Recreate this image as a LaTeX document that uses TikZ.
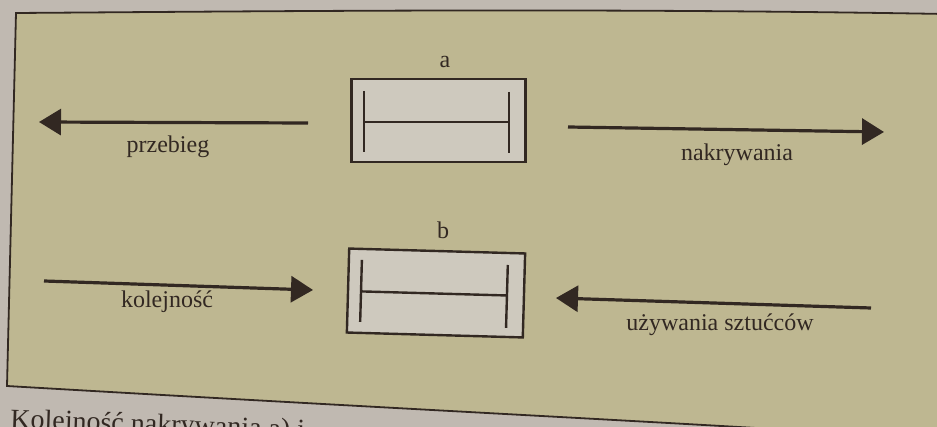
\documentclass[tikz,border=0pt]{standalone}
\usepackage{fontspec}
\setmainfont{Liberation Serif}
\usetikzlibrary{arrows.meta}
\definecolor{page}{RGB}{192,185,177}
\definecolor{panel}{RGB}{190,183,145}
\definecolor{boxfill}{RGB}{206,201,190}
\definecolor{ink}{RGB}{50,40,34}
\begin{document}
\begin{tikzpicture}[x=1pt,y=-1pt,
  flow/.style={draw=ink,line width=3.2pt,-{Triangle[length=22pt,width=26pt]}},
  lbl/.style={text=ink,font=\fontsize{24}{28}\selectfont,inner sep=0pt,anchor=base},
  plate/.style={draw=ink,line width=2.4pt,fill=boxfill,inner sep=0pt},
  cutlery/.style={draw=ink,line width=2.4pt}]
\useasboundingbox (0,0) rectangle (937,427);
% page and tinted panel
\fill[page] (0,0) rectangle (937,427);
\draw[fill=panel,draw=ink,line width=1.8pt]
  (16,13) .. controls (300,11) and (600,8) .. (945,14)
  -- (945,440) .. controls (750,426) and (450,412) .. (7,386) -- cycle;
% place setting a
\node[plate,minimum width=174pt,minimum height=83pt] (boxA) at (438.5,120.5) {};
\begin{scope}[shift={(boxA.center)}]
  \draw[cutlery] (-74.5,-29.5) -- (-74.5,31.5);
  \draw[cutlery] (70.5,-28.5) -- (70.5,32.5);
  \draw[cutlery] (-74.5,1.5) -- (70.5,1.5);
\end{scope}
\node[lbl] (labA) at (445,68) {a};
% place setting b
\node[plate,minimum width=176pt,minimum height=84pt,rotate=-1.6] (boxB) at (436,293) {};
\begin{scope}[shift={(boxB.center)},rotate=-1.6]
  \draw[cutlery] (-75,-31) -- (-75,31);
  \draw[cutlery] (71,-30) -- (71,33);
  \draw[cutlery] (-75,0.5) -- (71,0.5);
\end{scope}
\node[lbl] (labB) at (443,239) {b};
% arrows
\coordinate (aS) at (308,123);
\coordinate (aE) at (39,122);
\draw[flow] (aS) -- (aE);
\node[lbl] (tPrzebieg) at (168,153) {przebieg};
\coordinate (bS) at (568,127);
\coordinate (bE) at (884,132);
\draw[flow] (bS) -- (bE);
\node[lbl] (tNakr) at (737,161) {nakrywania};
\coordinate (cS) at (44,281);
\coordinate (cE) at (313,290);
\draw[flow] (cS) -- (cE);
\node[lbl] (tKol) at (167,308) {kolejność};
\coordinate (dS) at (871,308);
\coordinate (dE) at (556,298);
\draw[flow] (dS) -- (dE);
\node[lbl] (tUzyw) at (720,331) {używania sztućców};
% caption line below the panel, running off the lower edge
\node[text=ink,font=\fontsize{28}{32}\selectfont,inner sep=0pt,anchor=base west,rotate=-2] (caption) at (10,428) {Kolejność nakrywania a) i};
\end{tikzpicture}
\end{document}
